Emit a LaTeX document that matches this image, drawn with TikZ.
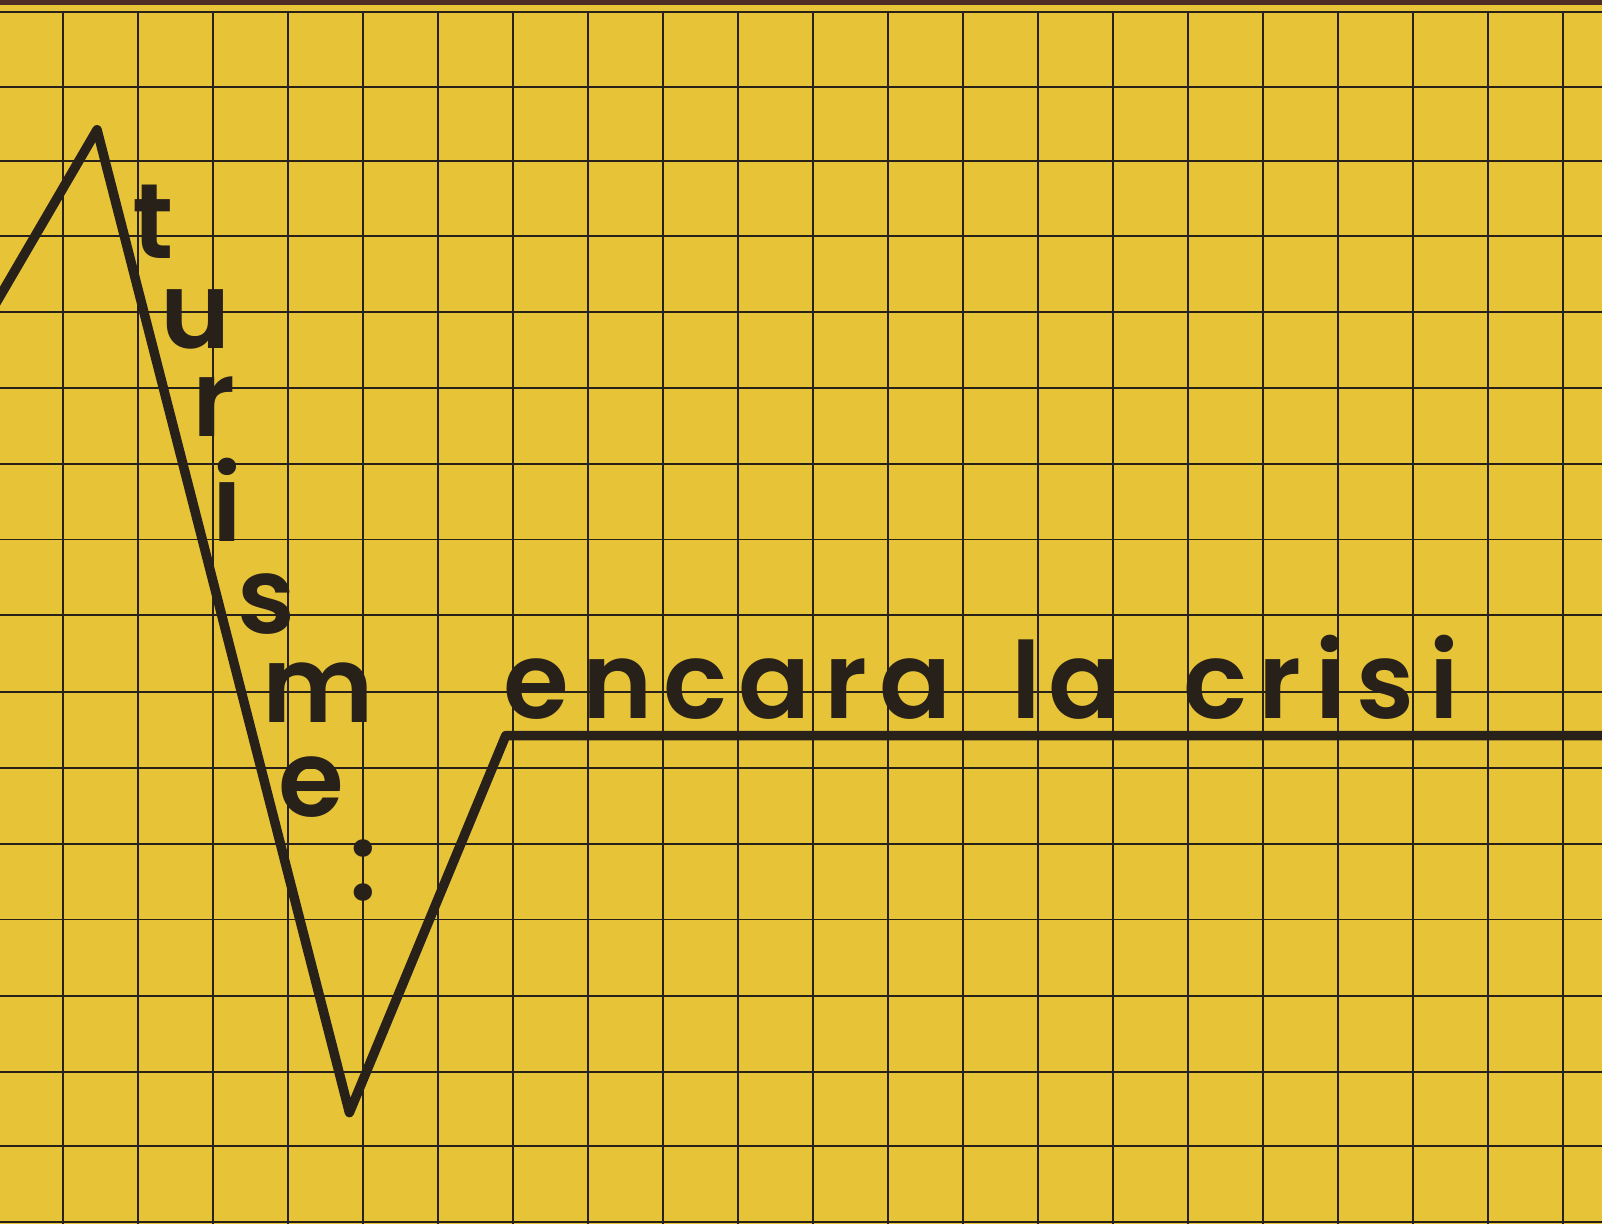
\documentclass[tikz,border=0pt]{standalone}
\usepackage{fontspec}
\newfontfamily\popfont{Poppins SemiBold}
\usepackage{tikz}
\usetikzlibrary{positioning}
\definecolor{paper}{RGB}{231,195,55}
\definecolor{tinta}{RGB}{40,33,26}
\definecolor{vora}{RGB}{78,46,36}
\tikzset{
  lletra/.style = {inner sep=0pt, anchor=base, text=tinta,
    font={\popfont\fontsize{74}{74}\selectfont}},% lletra del titol
  graella/.style = {draw=tinta, line width=1.3pt},% graella de fons
  ziga/.style = {draw=tinta, line width=6.6pt, line join=round}% linia en ziga-zaga
}
\begin{document}
\begin{tikzpicture}[x=0.025cm, y=-0.025cm]
\useasboundingbox (0,0) rectangle (1568,1198);
\fill[paper] (0,0) rectangle (1568,1198);
\fill[vora] (0,0) rectangle (1568,5);
% graella
\foreach \y in {12,85,158,231,305,380,454,528,602,677,752,826,900,975,1049,1122,1196}
  \draw[graella] (0,\y) -- (1568,\y);
\foreach \k in {0,...,20}
  \draw[graella] (62+73.4*\k,12) -- (62+73.4*\k,1198);

% ziga-zaga
\coordinate (esq) at (-10,307);
\coordinate (cim) at (95,127);
\coordinate (fons) at (342,1089);
\coordinate (colze) at (495,720);
\coordinate (dreta) at (1580,720);
\draw[ziga] (esq) -- (cim) -- (fons) -- (colze) -- (dreta);

% turisme:
\foreach \c/\x/\y [count=\i] in {t/150/253, u/191/341, r/209/427, i/222/530,
    s/261/620, m/311/707, e/305/799, :/356/881}
  \node[lletra] (t\i) at (\x,\y) {\c};
% encara la crisi
\foreach \c/\x [count=\i] in {e/525, n/605, c/681, a/758, r/828, a/896,
    l/1004, a/1062, c/1190, r/1253, i/1302, s/1356, i/1414}
  \node[lletra] (c\i) at (\x,703) {\c};
\end{tikzpicture}
\end{document}
